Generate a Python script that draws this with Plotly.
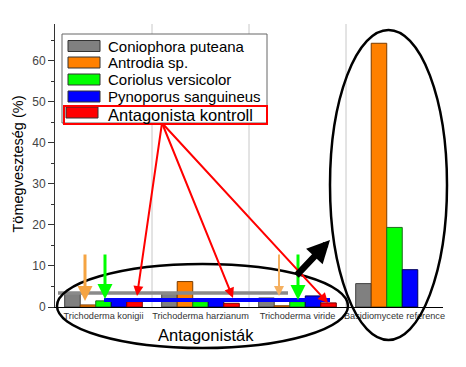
import plotly.graph_objects as go

# ---------------- data ----------------
categories = ["Trichoderma konigii", "Trichoderma harzianum", "Trichoderma viride", "Basidiomycete reference"]
series_names = ["Coniophora puteana", "Antrodia sp.", "Coriolus versicolor", "Pynoporus sanguineus", "Antagonista kontroll"]
coniophora = [3.3, 3.3, 2.2, 5.7]
antrodia = [0.5, 6.2, 0.3, 64.3]
coriolus = [1.5, 1.3, 1.3, 19.4]
pynoporus = [1.6, 1.6, 2.7, 9.1]
kontroll = [1.3, 0.9, 1.0, None]
y_ticks = [0, 10, 20, 30, 40, 50, 60]
y_title = "Tömegveszteség (%)"
x_title = "Antagonisták"

series_values = [coniophora, antrodia, coriolus, pynoporus, kontroll]
fills = ["#808080", "#ff8000", "#00ff00", "#0000ff", "#ff0000"]
outlines = ["#404040", "#7a3c00", "#1f6b1f", "#00005a", "#7a0000"]

FONT = "Liberation Sans, Arial, sans-serif"
OFF = 8                      # page body margin of the html page
W, H = 466 - 2 * OFF, 367 - 2 * OFF
# plot area in page pixels
L, R, T, B = 55, 443, 24, 307


def px(x):
    return (x - L) / (R - L)


def py(y):
    return (B - y) / (B - T)


fig = go.Figure()
for name, vals, fc, lc in zip(series_names, series_values, fills, outlines):
    fig.add_trace(go.Bar(x=categories, y=vals, name=name,
                         marker=dict(color=fc, line=dict(color=lc, width=1))))

shapes = []
annotations = []

# vertical grid lines at category boundaries
for b in [0.5, 1.5, 2.5]:
    shapes.append(dict(type="line", xref="x", yref="paper", x0=b, x1=b, y0=0, y1=1,
                       line=dict(color="#c8c8c8", width=1), layer="below"))

# grey and blue horizontal marker lines
shapes.append(dict(type="line", xref="paper", yref="paper", x0=px(58), x1=px(288), y0=py(293), y1=py(293),
                   line=dict(color="#8a8a8a", width=3.5)))
shapes.append(dict(type="line", xref="paper", yref="paper", x0=px(104), x1=px(330), y0=py(300), y1=py(300),
                   line=dict(color="#0000ff", width=4)))

# ellipses
shapes.append(dict(type="circle", xref="paper", yref="paper", x0=px(57), x1=px(348), y0=py(264), y1=py(348),
                   line=dict(color="black", width=2.5)))
shapes.append(dict(type="circle", xref="paper", yref="paper", x0=px(330), x1=px(447), y0=py(30), y1=py(340),
                   line=dict(color="black", width=2.5)))

# legend box
shapes.append(dict(type="rect", xref="paper", yref="paper", x0=px(62), x1=px(267), y0=py(34), y1=py(123),
                   line=dict(color="#666666", width=1), fillcolor="white"))
sw_y = [46, 62.5, 79.5, 96.5, 112.5]
for i, (name, fc) in enumerate(zip(series_names, fills)):
    x0 = 68 if i < 4 else 66
    shapes.append(dict(type="rect", xref="paper", yref="paper", x0=px(x0), x1=px(x0 + 32),
                       y0=py(sw_y[i] - 5.5), y1=py(sw_y[i] + 5.5),
                       line=dict(color="#333333", width=1), fillcolor=fc))
    annotations.append(dict(xref="paper", yref="paper", x=px(106), y=py(sw_y[i] + (2 if i == 4 else 0)),
                            text=name, showarrow=False, xanchor="left", yanchor="middle",
                            font=dict(family=FONT, size=16.5 if i == 4 else 15, color="black")))
shapes.append(dict(type="rect", xref="paper", yref="paper", x0=px(64), x1=px(267), y0=py(106), y1=py(124),
                   line=dict(color="#ff0000", width=2)))

# arrows
def arrow(x0, y0, x1, y1, color, width, head=2, size=1.0):
    annotations.append(dict(xref="paper", yref="paper", x=px(x1), y=py(y1), ax=x0 - x1, ay=y0 - y1,
                            axref="pixel", ayref="pixel", text="", showarrow=True,
                            arrowcolor=color, arrowwidth=width, arrowhead=head, arrowsize=size))

arrow(85, 253, 85, 301, "#f5a442", 3)
arrow(279, 253, 279, 296, "#f5b060", 2)
arrow(105, 253, 105, 299, "#00ff00", 3)
arrow(298, 253, 298, 300, "#00ff00", 3)
arrow(162, 123, 137, 296, "#ff0000", 2)
arrow(162, 123, 233, 298, "#ff0000", 2)
arrow(162, 123, 328, 303, "#ff0000", 2)
arrow(295, 277, 330, 240, "black", 6.5, head=2, size=0.7)

# titles
annotations.append(dict(xref="paper", yref="paper", x=px(17.5), y=py(164), text=y_title, textangle=-90,
                        xanchor="center", yanchor="middle",
                        showarrow=False, font=dict(family=FONT, size=14.5, color="black")))
annotations.append(dict(xref="paper", yref="paper", x=px(206), y=py(335), text=x_title,
                        xanchor="center", yanchor="middle",
                        showarrow=False, font=dict(family=FONT, size=16.5, color="black")))

fig.update_layout(
    width=W, height=H,
    margin=dict(l=L - OFF, r=W - (R - OFF), t=T - OFF, b=H - (B - OFF), autoexpand=False),
    paper_bgcolor="white", plot_bgcolor="white",
    barmode="group", bargap=0.2, bargroupgap=0,
    showlegend=False,
    font=dict(family=FONT),
    shapes=shapes, annotations=annotations,
    xaxis=dict(showgrid=False, showline=True, linecolor="black", linewidth=1.2, automargin=False,
               ticks="", tickfont=dict(family=FONT, size=9.2, color="#333333"), zeroline=False),
    yaxis=dict(range=[0, 69], showgrid=False, zeroline=False, showline=True, linecolor="#333333", linewidth=1,
               automargin=False,
               ticks="outside", ticklen=6, tickcolor="#333333", tickvals=y_ticks,
               tickfont=dict(family=FONT, size=12, color="#444444"),
               minor=dict(tickvals=[5, 15, 25, 35, 45, 55, 65], ticks="outside", ticklen=3, tickcolor="#333333")),
)

fig.write_html("out.html")
